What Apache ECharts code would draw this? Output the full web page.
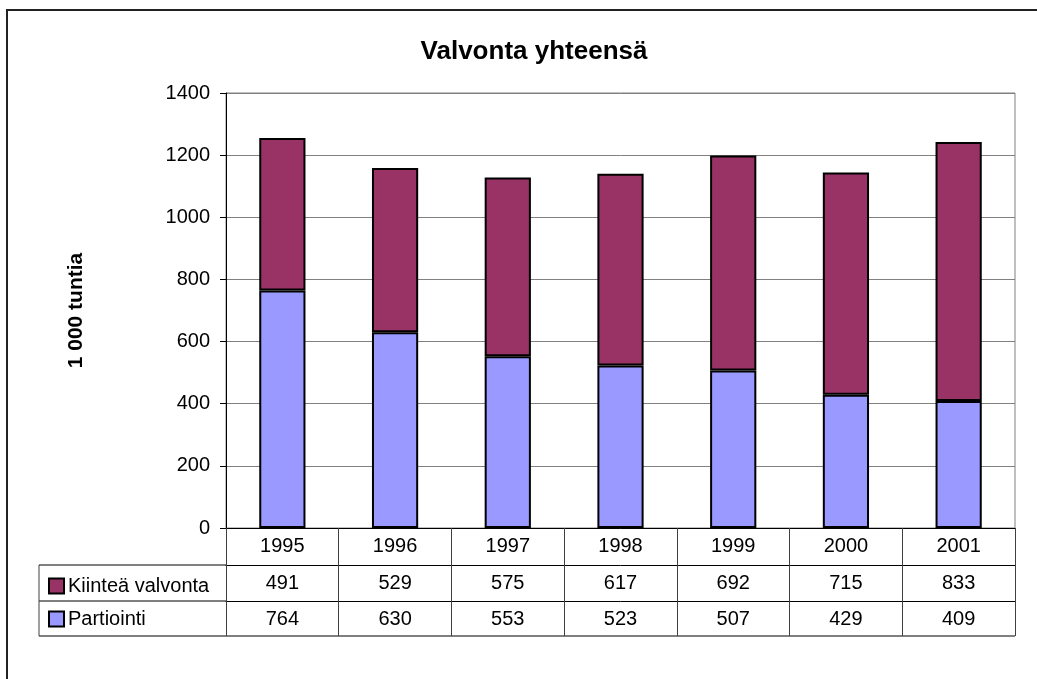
<!DOCTYPE html>
<html lang="fi">
<head>
  <meta charset="UTF-8">
  <title>Valvonta yhteensä</title>
  <script src="https://cdn.jsdelivr.net/npm/echarts@6/dist/echarts.min.js"></script>
  <style>
    * {margin: 0; padding: 0;}
    html, body {width: 100%; height: 100%; overflow: hidden; background: #fff;}
    #chart {width: 1037px; height: 679px;}
  </style>
</head>
<body>
  <div id="chart"></div>
<script>
var years = ['1995', '1996', '1997', '1998', '1999', '2000', '2001']
var kiintea = [491, 529, 575, 617, 692, 715, 833]
var partiointi = [764, 630, 553, 523, 507, 429, 409]
var seriesNames = ['Kiinteä valvonta', 'Partiointi']
var colors = {kiintea: '#993366', partiointi: '#9999ff'}

var font = "'Liberation Sans', Arial, sans-serif"

function tableAxis (data, offset, len) {
  return {
    type: 'category',
    position: 'bottom',
    offset: offset,
    data: data.map(String),
    axisLine: {show: true, lineStyle: {color: '#000', width: 1}},
    axisTick: {show: true, length: len, lineStyle: {color: '#404040'}},
    axisLabel: {color: '#000', fontSize: 20, fontFamily: font, margin: 8},
    splitLine: {show: false}
  }
}

var chart = echarts.init(document.getElementById('chart'))
var option = {
  animation: false,
  textStyle: {fontFamily: font},
  title: {
    text: 'Valvonta yhteensä',
    left: 529,
    top: 34,
    textAlign: 'center',
    textStyle: {fontSize: 26, fontWeight: 'bold', color: '#000', fontFamily: font}
  },
  grid: {
    left: 226, top: 93, right: 22, bottom: 151,
    show: true, borderColor: '#808080', borderWidth: 1
  },
  legend: {
    orient: 'vertical',
    left: 43,
    top: 571,
    itemGap: 13,
    itemWidth: 15,
    itemHeight: 15,
    icon: 'rect',
    data: seriesNames,
    textStyle: {fontSize: 20, color: '#000', fontFamily: font, padding: [0, 0, 0, -1]},
    itemStyle: {borderColor: '#000', borderWidth: 2}
  },
  xAxis: [
    tableAxis(years, 0, 37),
    tableAxis(kiintea, 37, 36),
    tableAxis(partiointi, 73, 35)
  ],
  yAxis: {
    type: 'value',
    min: 0, max: 1400, interval: 200,
    name: '1 000 tuntia',
    nameLocation: 'middle',
    nameGap: 139,
    nameTextStyle: {fontSize: 21, fontWeight: 'bold', color: '#000', fontFamily: font},
    axisLine: {show: true, lineStyle: {color: '#000'}},
    axisTick: {show: true, length: 6, lineStyle: {color: '#000'}},
    axisLabel: {
      color: '#000', fontSize: 20, fontFamily: font, margin: 16,
      formatter: function (v) { return String(v) }
    },
    splitLine: {lineStyle: {color: '#808080', width: 1}}
  },
  series: [
    {
      name: 'Partiointi', type: 'bar', stack: 'total', xAxisIndex: 0,
      barWidth: '41%', data: partiointi,
      itemStyle: {color: colors.partiointi, borderColor: '#000', borderWidth: 2}
    },
    {
      name: 'Kiinteä valvonta', type: 'bar', stack: 'total', xAxisIndex: 0,
      barWidth: '41%', data: kiintea,
      itemStyle: {color: colors.kiintea, borderColor: '#000', borderWidth: 2}
    }
  ],
  graphic: [
    {type: 'rect', shape: {x: 7, y: 10, width: 1100, height: 800}, style: {fill: 'none', stroke: '#222', lineWidth: 2}, silent: true},
    {type: 'line', shape: {x1: 39, y1: 565, x2: 226, y2: 565}, style: {stroke: '#000', lineWidth: 1}},
    {type: 'line', shape: {x1: 39, y1: 601, x2: 226, y2: 601}, style: {stroke: '#000', lineWidth: 1}},
    {type: 'line', shape: {x1: 39, y1: 636, x2: 1015, y2: 636}, style: {stroke: '#000', lineWidth: 1}},
    {type: 'line', shape: {x1: 39, y1: 565, x2: 39, y2: 636}, style: {stroke: '#404040', lineWidth: 1}}
  ]
}
chart.setOption(option)
</script>
</body>
</html>
